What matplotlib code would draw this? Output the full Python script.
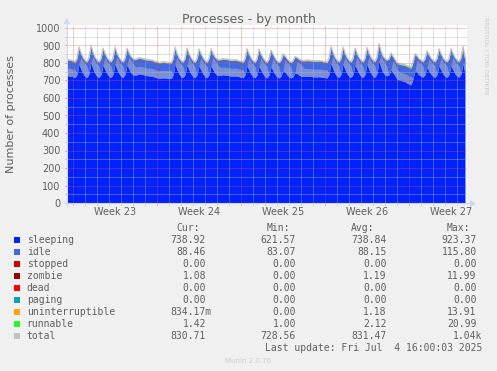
import numpy as np
import matplotlib
matplotlib.use("Agg")
import matplotlib.pyplot as plt
from matplotlib.patches import Rectangle, Polygon
from matplotlib.lines import Line2D

# ---------------- data (4-hour samples, rows = days) ----------------
# first row: Sun Jun 1 from 12:00; last row: Fri Jul 4 until 16:00
sleeping_by_day = [
    [728, 727, 725],
    [721, 717, 735, 795, 763, 740],
    [724, 718, 738, 803, 766, 741],
    [724, 718, 735, 789, 762, 740],
    [724, 718, 736, 795, 763, 740],
    [724, 718, 735, 789, 764, 744],
    [733, 730, 733, 738, 736, 734],
    [731, 728, 727, 726, 723, 719],
    [716, 713, 714, 716, 715, 713],
    [713, 711, 731, 795, 762, 738],
    [722, 717, 734, 789, 761, 738],
    [722, 716, 733, 785, 760, 738],
    [722, 716, 734, 785, 762, 742],
    [731, 728, 731, 733, 732, 731],
    [728, 726, 726, 727, 725, 722],
    [719, 716, 733, 785, 760, 737],
    [721, 716, 732, 782, 759, 737],
    [721, 715, 731, 778, 757, 736],
    [720, 715, 726, 757, 748, 733],
    [720, 715, 723, 744, 740, 731],
    [726, 723, 724, 725, 724, 723],
    [722, 721, 721, 722, 721, 719],
    [717, 715, 735, 799, 765, 741],
    [724, 718, 736, 795, 763, 740],
    [724, 718, 735, 789, 762, 740],
    [724, 718, 736, 793, 763, 740],
    [724, 719, 741, 813, 772, 746],
    [733, 727, 733, 762, 745, 728],
    [708, 704, 700, 697, 694, 686],
    [680, 676, 712, 757, 748, 732],
    [726, 719, 734, 774, 755, 736],
    [724, 719, 735, 785, 760, 738],
    [724, 719, 735, 785, 761, 739],
    [725, 719, 739, 798, 738.92],
]
idle_by_day = [
    [88, 88, 88],
    [88, 87, 89, 91, 90, 88],
    [88, 87, 90, 92, 89, 88],
    [88, 87, 89, 91, 89, 88],
    [88, 88, 89, 91, 89, 88],
    [88, 87, 89, 91, 90, 89],
    [88, 88, 88, 89, 88, 88],
    [88, 88, 88, 88, 88, 87],
    [87, 87, 87, 88, 87, 87],
    [87, 87, 89, 91, 89, 88],
    [88, 87, 89, 91, 89, 88],
    [88, 87, 89, 90, 89, 88],
    [88, 87, 89, 91, 89, 88],
    [88, 88, 88, 88, 88, 88],
    [88, 88, 88, 88, 88, 87],
    [88, 87, 89, 91, 89, 88],
    [88, 87, 89, 91, 89, 88],
    [88, 87, 89, 90, 89, 88],
    [88, 87, 88, 90, 89, 88],
    [88, 87, 88, 89, 88, 88],
    [88, 88, 88, 88, 88, 88],
    [88, 88, 88, 88, 88, 87],
    [87, 87, 89, 91, 90, 88],
    [88, 87, 89, 91, 89, 88],
    [88, 87, 89, 91, 89, 88],
    [88, 87, 89, 91, 89, 88],
    [88, 88, 90, 92, 90, 89],
    [88, 88, 89, 90, 89, 88],
    [89, 89, 90, 90, 91, 93],
    [94, 93, 90, 91, 89, 88],
    [88, 87, 89, 91, 89, 88],
    [88, 87, 89, 91, 89, 88],
    [88, 87, 89, 91, 89, 88],
    [88, 87, 89, 91, 88.46],
]
runnable_by_day = [
    [2, 2, 2],
    [2, 1, 3, 3, 2, 2], [2, 1, 3, 3, 2, 2], [2, 1, 3, 3, 2, 2], [2, 1, 3, 3, 2, 2], [2, 1, 3, 3, 2, 2],
    [2, 2, 2, 2, 2, 2], [2, 2, 2, 2, 2, 2], [2, 2, 2, 2, 2, 2],
    [2, 1, 3, 3, 2, 2], [2, 1, 3, 3, 2, 2], [2, 1, 3, 3, 2, 2], [2, 1, 3, 3, 2, 2],
    [2, 2, 2, 2, 2, 2], [2, 2, 2, 2, 2, 2],
    [2, 1, 3, 3, 2, 2], [2, 1, 3, 3, 2, 2], [2, 1, 3, 3, 2, 2], [2, 1, 2, 3, 2, 2], [2, 1, 2, 2, 2, 2],
    [2, 2, 2, 2, 2, 2], [2, 2, 2, 2, 2, 2],
    [2, 1, 3, 3, 2, 2], [2, 1, 3, 3, 2, 2], [2, 1, 3, 3, 2, 2], [2, 1, 3, 3, 2, 2], [2, 1, 3, 3, 2, 2],
    [2, 2, 2, 3, 2, 2], [2, 2, 2, 3, 3, 4],
    [6, 7, 4, 3, 2, 2], [2, 1, 3, 3, 2, 2], [2, 1, 3, 3, 2, 2], [2, 1, 3, 3, 2, 2],
    [2, 1, 3, 3, 1.42],
]
zombie_by_day = [
    [1, 1, 1],
    [1, 1, 1, 1, 1, 1], [1, 1, 1, 1, 1, 1], [1, 1, 1, 1, 1, 1], [1, 1, 1, 1, 1, 1], [1, 1, 1, 1, 1, 1],
    [1, 1, 1, 1, 1, 1], [1, 1, 1, 1, 1, 1], [1, 1, 1, 1, 1, 1],
    [1, 1, 1, 1, 1, 1], [1, 1, 1, 1, 1, 1], [1, 1, 1, 1, 1, 1], [1, 1, 1, 1, 1, 1],
    [1, 1, 1, 1, 1, 1], [1, 1, 1, 1, 1, 1],
    [1, 1, 1, 1, 1, 1], [1, 1, 1, 1, 1, 1], [1, 1, 1, 1, 1, 1], [1, 1, 1, 1, 1, 1], [1, 1, 1, 1, 1, 1],
    [1, 1, 1, 1, 1, 1], [1, 1, 1, 1, 1, 1],
    [1, 1, 1, 1, 1, 1], [1, 1, 1, 1, 1, 1], [1, 1, 1, 1, 1, 1], [1, 1, 1, 1, 1, 1], [1, 1, 1, 1, 1, 1],
    [1, 1, 1, 1, 1, 1], [1, 1, 1, 1, 1, 1],
    [1, 1, 1, 1, 1, 1], [1, 1, 1, 1, 1, 1], [1, 1, 1, 1, 1, 1], [1, 1, 1, 1, 1, 1],
    [1, 1, 1, 1, 1.08],
]
uninterruptible_by_day = [
    [1, 1, 1],
    [1, 1, 1, 2, 1, 1], [1, 1, 1, 2, 1, 1], [1, 1, 1, 2, 1, 1], [1, 1, 1, 2, 1, 1], [1, 1, 1, 2, 1, 1],
    [1, 1, 1, 1, 1, 1], [1, 1, 1, 1, 1, 1], [1, 1, 1, 1, 1, 1],
    [1, 1, 1, 2, 1, 1], [1, 1, 1, 2, 1, 1], [1, 1, 1, 2, 1, 1], [1, 1, 1, 2, 1, 1],
    [1, 1, 1, 1, 1, 1], [1, 1, 1, 1, 1, 1],
    [1, 1, 1, 2, 1, 1], [1, 1, 1, 2, 1, 1], [1, 1, 1, 2, 1, 1], [1, 1, 1, 1, 1, 1], [1, 1, 1, 1, 1, 1],
    [1, 1, 1, 1, 1, 1], [1, 1, 1, 1, 1, 1],
    [1, 1, 1, 2, 1, 1], [1, 1, 1, 2, 1, 1], [1, 1, 1, 2, 1, 1], [1, 1, 1, 2, 1, 1], [1, 1, 1, 2, 1, 1],
    [1, 1, 1, 1, 1, 1], [1, 1, 1, 1, 1, 1],
    [1, 1, 1, 2, 1, 1], [1, 1, 1, 2, 1, 1], [1, 1, 1, 2, 1, 1], [1, 1, 1, 2, 1, 1],
    [1, 1, 1, 2, 0.83],
]
# fraction of the idle band rendered in the lighter (greyish-blue) tone
shade_by_day = [
    [0.5, 0.5, 0.5],
    [0.5, 0.55, 0, 0, 0.8, 0.8], [0.8, 0.75, 0, 0, 0.8, 0.8], [0.8, 0.75, 0, 0, 0.8, 0.8],
    [0.8, 0.75, 0, 0, 0.8, 0.8], [0.8, 0.75, 0, 0, 0.8, 0.8],
    [0.75, 0.6, 0.5, 0.5, 0.5, 0.5], [0.5, 0.5, 0.5, 0.5, 0.5, 0.5],
    [0.5, 0.5, 0.5, 0.5, 0.5, 0.5],
    [0.5, 0.55, 0, 0, 0.8, 0.8], [0.8, 0.75, 0, 0, 0.8, 0.8], [0.8, 0.75, 0, 0, 0.8, 0.8],
    [0.8, 0.75, 0, 0, 0.8, 0.8],
    [0.75, 0.6, 0.5, 0.5, 0.5, 0.5], [0.5, 0.5, 0.5, 0.5, 0.5, 0.5],
    [0.5, 0.55, 0, 0, 0.8, 0.8], [0.8, 0.75, 0, 0, 0.8, 0.8], [0.8, 0.75, 0, 0, 0.8, 0.8],
    [0.8, 0.75, 0, 0, 0.8, 0.8], [0.8, 0.75, 0, 0, 0.8, 0.8],
    [0.75, 0.6, 0.5, 0.5, 0.5, 0.5], [0.5, 0.5, 0.5, 0.5, 0.5, 0.5],
    [0.5, 0.55, 0, 0, 0.8, 0.8], [0.8, 0.75, 0, 0, 0.8, 0.8], [0.8, 0.75, 0, 0, 0.8, 0.8],
    [0.8, 0.75, 0, 0, 0.8, 0.8], [0.8, 0.75, 0, 0, 0.8, 0.8],
    [0.75, 0.6, 0, 0, 0.8, 0.75], [0.6, 0.55, 0.5, 0.5, 0.5, 0.5],
    [0.5, 0.5, 0, 0, 0.8, 0.8], [0.8, 0.75, 0, 0, 0.8, 0.8], [0.8, 0.75, 0, 0, 0.8, 0.8],
    [0.8, 0.75, 0, 0, 0.8, 0.8],
    [0.8, 0.75, 0, 0, 0.8],
]

week_numbers = [23, 24, 25, 26, 27]
week_starts = [1, 8, 15, 22, 29]          # days since Sun Jun 1 00:00 (Mondays)
start_day = 0.5                            # first sample: Jun 1 12:00
samples_per_day = 6

labels = ["sleeping", "idle", "stopped", "zombie", "dead", "paging",
          "uninterruptible", "runnable", "total"]
colors = ["#0022ff", "#4169e1", "#cc0000", "#990000", "#ff0000", "#00aaaa",
          "#ffa500", "#22ff22", "#c0c0c0"]
cur_vals = ["738.92", "88.46", "0.00", "1.08", "0.00", "0.00", "834.17m", "1.42", "830.71"]
min_vals = ["621.57", "83.07", "0.00", "0.00", "0.00", "0.00", "0.00", "1.00", "728.56"]
avg_vals = ["738.84", "88.15", "0.00", "1.19", "0.00", "0.00", "1.18", "2.12", "831.47"]
max_vals = ["923.37", "115.80", "0.00", "11.99", "0.00", "0.00", "13.91", "20.99", "1.04k"]

# ---------------- prepare series ----------------
def flat(rows):
    return np.concatenate([np.asarray(r, dtype=float) for r in rows])

sleeping = flat(sleeping_by_day)
idle = flat(idle_by_day)
runnable = flat(runnable_by_day)
zombie = flat(zombie_by_day)
uninterruptible = flat(uninterruptible_by_day)
shade = flat(shade_by_day)
N = len(sleeping)
stopped = np.zeros(N)
dead = np.zeros(N)
paging = np.zeros(N)
x = start_day + np.arange(N) / samples_per_day

# ---------------- figure ----------------
plt.rcParams["lines.scale_dashes"] = False
W, H = 497, 371
FONT = "#5f5f5f"
fig = plt.figure(figsize=(W / 100, H / 100), dpi=100, facecolor="#f0f0f0")

def fx(px):
    return px / W

def fy(py):
    return 1 - py / H

L, R, T, B = 67, 466.5, 25, 203
ax = fig.add_axes([fx(L), fy(B), (R - L) / W, (B - T) / H])
ax.set_facecolor("white")
for s in ax.spines.values():
    s.set_visible(False)

# stacked areas
base = sleeping.copy()
ax.fill_between(x, 0, sleeping, color=colors[0], lw=0, zorder=1)
top_idle = base + idle
ax.fill_between(x, base, top_idle, color=colors[1], lw=0, zorder=1)
shade_top = base + shade * (top_idle - base)
ax.fill_between(x, base, np.maximum(shade_top, base), color="#7b8fd8", lw=0, zorder=1.1)
base = top_idle
for series, col in zip([stopped, zombie, dead, paging, uninterruptible, runnable], colors[2:8]):
    ax.fill_between(x, base, base + series, color=col, lw=0, zorder=1.2)
    base = base + series
total = sleeping + idle + stopped + zombie + dead + paging + uninterruptible + runnable
ax.plot(x, total, color=colors[8], lw=0.8, zorder=1.5)

ax.set_xlim(0.5, 0.5 + (R - L) / 12.0)
ax.set_ylim(0, 1000 * (B - T) / 175.0)

# grid (rrdtool style, drawn over the areas)
GRID = (0.70, 0.70, 0.70, 0.8)
MGRID = (0.87, 0.31, 0.31, 0.6)
dots = (0, (0.72, 0.72))
for d in range(1, 34):
    ax.axvline(d, color=MGRID if d in week_starts else GRID, lw=0.72, ls=dots, zorder=3)
for v in range(50, 1001, 50):
    ax.axhline(v, color=MGRID if v % 100 == 0 else GRID, lw=0.72, ls=dots, zorder=3)

# ticks
ax.set_yticks(range(0, 1001, 100))
ax.set_yticks(range(50, 1000, 100), minor=True)
ax.tick_params(axis="y", which="major", length=1.5, width=0.72, color=MGRID,
               labelsize=7, labelcolor=FONT, pad=3.3)
ax.tick_params(axis="y", which="minor", length=1.5, width=0.72, color=GRID)
ax.set_xticks(week_starts)
ax.set_xticks([d for d in range(1, 34) if d not in week_starts], minor=True)
ax.tick_params(axis="x", which="major", length=1.5, width=0.72, color=MGRID, labelbottom=False)
ax.tick_params(axis="x", which="minor", length=1.5, width=0.72, color=GRID)
sec = ax.secondary_xaxis("bottom")
sec.set_xticks([w + 3.5 for w in week_starts], [f"Week {n}" for n in week_numbers])
sec.tick_params(length=0, labelsize=7, labelcolor=FONT, pad=2.6)
for s in sec.spines.values():
    s.set_visible(False)

# axis lines with arrows
AX = "#cfd6f8"
fig.add_artist(Line2D([fx(64), fx(471)], [fy(B + 0.5), fy(B + 0.5)], color=AX, lw=0.8))
fig.add_artist(Line2D([fx(L - 0.3), fx(L - 0.3)], [fy(B + 3), fy(22)], color=AX, lw=0.8))
fig.add_artist(Polygon([[fx(470), fy(B - 3)], [fx(476), fy(B + 0.5)], [fx(470), fy(B + 4)]],
                       closed=True, color=AX, lw=0, transform=fig.transFigure))
fig.add_artist(Polygon([[fx(L - 3.5), fy(24)], [fx(L - 0.3), fy(18)], [fx(L + 3), fy(24)]],
                       closed=True, color=AX, lw=0, transform=fig.transFigure))

# texts
fig.text(fx(248.5), fy(23), "Processes - by month", ha="center", va="baseline",
         fontsize=9, color=FONT)
fig.text(fx(11), fy(114), "Number of processes", ha="center", va="center",
         rotation=90, fontsize=8, color=FONT)
fig.text(fx(485.5), fy(56), "RRDTOOL / TOBI OETIKER", ha="center", va="center",
         rotation=270, fontsize=4.3, color="#c8c8c8")

MONO = "DejaVu Sans Mono"
CW = 0.602 * 7 * 100 / 72
for hx, htxt in zip([176, 267, 351, 447], ["Cur:", "Min:", "Avg:", "Max:"]):
    fig.text(fx(hx), fy(230.8), htxt, ha="left", va="baseline", fontsize=7,
             family=MONO, color=FONT)

col_right = [206, 296, 386.7, 476.7]
for i, (lab, col) in enumerate(zip(labels, colors)):
    yc = 239.5 + 12 * i
    fig.add_artist(Rectangle((fx(14), fy(yc + 3)), 6 / W, 6 / H, color=col, lw=0,
                             transform=fig.transFigure))
    fig.text(fx(26.7), fy(yc + 3.5), lab, ha="left", va="baseline", fontsize=7,
             family=MONO, color=FONT)
    for xr, vals in zip(col_right, [cur_vals, min_vals, avg_vals, max_vals]):
        v = vals[i]
        shift = CW if v[-1].isalpha() else 0
        fig.text(fx(xr + shift), fy(yc + 3.5), v, ha="right", va="baseline", fontsize=7,
                 family=MONO, color=FONT)

fig.text(fx(482.7), fy(350.8), "Last update: Fri Jul  4 16:00:03 2025", ha="right",
         va="baseline", fontsize=7, family=MONO, color=FONT)
fig.text(fx(248), fy(363), "Munin 2.0.76", ha="center", va="baseline", fontsize=5,
         color="#cccccc")

fig.savefig("out.png", dpi=100, facecolor=fig.get_facecolor())
